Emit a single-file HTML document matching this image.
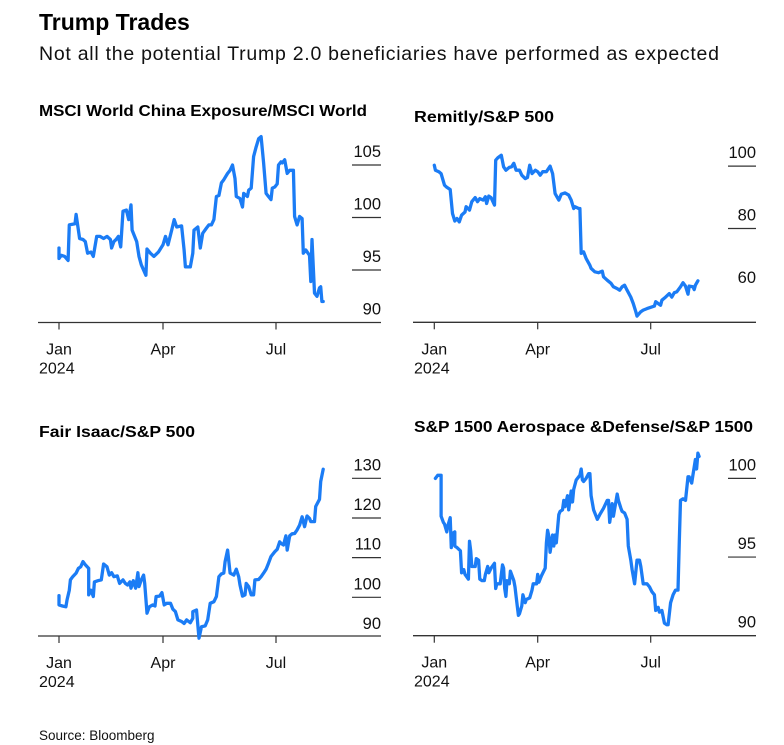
<!DOCTYPE html>
<html><head><meta charset="utf-8"><style>
html,body{margin:0;padding:0;background:#fff;width:784px;height:745px;overflow:hidden}
svg{display:block;font-family:"Liberation Sans",Arial,sans-serif}
</style></head><body>
<svg id="chart" width="784" height="745" viewBox="0 0 784 745">
<text x="39" y="30" font-size="23" font-weight="bold" fill="#000">Trump Trades</text>
<text x="39" y="60" font-size="19.5" fill="#111" textLength="680">Not all the potential Trump 2.0 beneficiaries have performed as expected</text>
<text x="39" y="740" font-size="13.5" fill="#111">Source: Bloomberg</text>
</svg>
<script>
// x = day of year 2024 (0 = Jan 1)
const monthLabels = ["Jan","Apr","Jul"];
const monthDays = [0,91,182];

const chinaDays = [0,0,2,5,8,9,14,15,18,21,23,25,28,30,33,36,39,42,45,46,48,50,52,54,56,59,61,63,64,68,70,72,76,77,80,83,87,91,93,95,98,100,102,106,108,109,113,115,116,119,121,123,126,128,130,132,134,136,138,140,143,145,147,149,150,153,155,156,159,160,162,164,166,168,170,172,174,176,178,179,181,183,184,186,187,189,191,193,196,197,199,201,203,204,206,209,210,211,213,215,217,218,219,220];
const chinaVals = [97.1,96.1,96.4,96.3,95.9,99.3,99.4,100.3,98.0,97.9,97.7,96.6,96.7,96.3,98.2,98.2,98.0,98.2,97.9,97.1,97.7,97.9,98.2,97.2,100.6,100.7,99.8,101.2,98.8,97.7,96.3,95.5,94.5,97.0,96.6,96.3,96.7,97.4,98.2,97.4,98.8,99.8,99.1,99.2,96.9,95.3,95.3,96.6,98.8,99.1,97.1,98.5,99.0,99.3,99.3,99.8,102.0,102.1,103.3,103.6,104.2,104.5,105.0,103.7,102.0,101.8,101.0,102.3,102.0,102.6,102.8,105.8,106.7,107.5,107.7,105.2,102.3,102.0,101.7,102.8,102.9,103.2,105.0,105.3,105.2,105.5,104.2,104.5,104.5,100.1,99.3,100.1,99.9,96.6,96.9,96.4,93.9,97.9,92.8,92.5,93.3,93.4,92.0,92.0];
const chinaTicks = [105,100,95,90];

const remitlyDays = [0,1,4,6,9,11,14,16,18,20,22,24,27,28,31,33,36,38,40,43,45,46,48,50,51,53,54,56,59,61,63,66,68,70,72,75,77,80,82,84,86,89,91,93,95,98,101,103,105,108,110,113,116,118,120,121,124,125,126,128,130,133,134,137,140,143,144,147,150,152,155,157,159,161,163,166,168,170,171,174,176,179,182,185,186,188,190,191,194,197,199,201,203,206,208,210,212,213,216,217,218,220];
const remitlyVals = [100.3,98.7,98.2,97.6,93.9,93.2,92.5,84.8,82.4,83.2,82.1,84.3,85.3,87.0,85.9,88.6,89.9,88.6,89.6,89.1,90.2,88.0,90.4,89.9,89.1,87.5,101.9,102.7,103.5,99.8,98.7,99.6,99.8,100.9,98.7,98.7,97.1,96.0,96.4,100.3,97.6,98.7,98.2,97.1,98.2,98.2,100,97.6,91.2,89.1,91.0,91.4,90.7,89.1,86.4,87.0,86.4,86.4,72.0,72.5,70.4,68.2,67.2,66.1,65.8,66.3,64.5,63.4,62.4,61.3,60.7,60.2,61.3,61.8,60.2,58.0,55.9,53.3,51.9,53.3,53.8,54.3,54.7,55.1,56.5,55.9,55.4,57.0,58.0,59.1,58.0,59.4,59.7,61.3,62.6,61.5,58.9,61.5,61.3,60.4,61.8,63.2];
const remitlyTicks = [100,80,60];

const fairDays = [0,0,3,6,7,9,10,12,15,17,19,21,23,26,26,28,30,31,34,37,39,42,44,46,48,51,53,56,58,60,62,63,65,67,69,70,72,74,75,77,79,82,84,85,88,90,92,94,97,99,101,103,106,108,110,113,115,115,118,120,122,125,127,129,132,134,136,138,140,141,143,145,148,150,152,153,155,157,158,160,162,164,165,168,170,172,174,176,178,181,183,185,186,188,190,191,193,195,197,199,201,203,205,207,209,210,213,214,217,218,220];
const fairVals = [100.4,98.1,97.8,97.6,99.3,101.8,104.4,105.2,106.1,107.3,107.7,109.0,108.2,107.3,100.6,101.8,100.2,103.9,104.2,104.4,108.4,107.7,105.6,106.2,105.2,105.4,103.5,104.4,103.5,103.1,103.9,102.3,104.2,102.3,106.2,102.7,104.4,105.6,103.5,96.0,97.6,98.1,97.8,100.2,100.3,101.2,98.1,98.5,98.5,97.0,96.4,94.3,93.9,93.4,94.3,93.6,94.7,96.4,96.8,89.7,92.6,92.8,94.3,98.5,98.9,100.2,105.2,105.9,106.1,109.0,111.9,106.1,105.6,107.1,105.2,103.1,100.3,100.6,103.5,102.7,100.6,100.6,104.4,104.5,105.2,106.1,107.1,108.6,110.3,111.5,112.1,114.0,113.6,113.2,115.5,111.9,115.5,116.0,116.1,117.0,118.2,120.3,117.8,120.5,119.9,119.1,119.1,122.9,124.7,129.2,132.3];
const fairTicks = [130,120,110,100,90];

const aeroDays = [1,3,6,6,8,9,11,12,14,15,16,18,18,20,23,24,26,27,28,30,31,32,33,34,36,37,39,40,42,44,45,47,48,50,53,53,54,55,57,58,60,61,62,63,64,66,67,70,71,72,74,75,77,78,80,81,84,86,87,90,91,92,94,97,98,99,100,101,103,104,105,106,108,109,111,112,113,115,116,118,119,120,122,124,125,126,127,128,130,132,133,134,136,138,139,141,144,147,148,149,151,152,155,156,158,159,161,163,164,166,167,169,171,173,174,176,179,181,183,185,186,188,189,191,193,195,196,198,200,202,204,205,206,208,210,212,213,214,215,216,218,219,220,221];
const aeroVals = [100,100.2,100.2,97.6,97.2,97.1,96.6,97.0,97.5,95.6,96.5,96.6,95.7,95.6,95.4,94.0,94.2,93.9,93.8,93.6,96.0,95.4,94.4,94.4,94.4,94.9,94.8,93.6,93.5,93.5,93.9,94.4,94.0,94.3,94.6,94.5,93.0,93.3,93.3,93.3,94.5,94.3,93.0,92.5,93.5,93.3,94.1,93.5,93.1,92.5,91.3,91.4,91.9,92.6,92.1,92.3,92.4,92.9,93.3,93.3,93.9,93.4,93.8,94.3,95.9,96.7,96.3,95.3,96.4,95.7,96.4,95.9,97.7,97.9,98.0,98.6,98.2,98.9,98.0,99.2,98.5,99.3,99.9,100.1,100.2,100.6,99.9,99.8,100,100.3,100.3,98.9,98.0,97.6,97.4,97.7,98.1,98.6,98.6,97.2,98.4,97.6,99.0,98.6,98.1,97.9,97.8,97.4,95.7,94.8,94.2,93.3,94.8,94.8,94.4,93.3,93.3,93.1,92.8,92.6,91.6,91.8,91.5,91.6,90.8,90.7,90.7,92.1,92.6,92.9,92.9,96.0,98.6,98.7,98.6,100.1,100.1,99.9,99.7,100.2,101.2,100.6,101.6,101.4];
const aeroTicks = [100,95,90];

const svg = document.getElementById('chart');
const NS = 'http://www.w3.org/2000/svg';
function mk(tag, attrs, parent){const e=document.createElementNS(NS,tag);for(const k in attrs)e.setAttribute(k,attrs[k]);(parent||svg).appendChild(e);return e;}

const panels = [
 {name:'china', title:'MSCI World China Exposure/MSCI World', titleW:328, titleY:116, x0:38, x1:381, baseY:322.5, tickPx:[59,163,276], vBase:90, pxPerUnit:10.5, days:chinaDays, vals:chinaVals, ticks:chinaTicks, gridX0:352},
 {name:'remitly', title:'Remitly/S&P 500', titleW:140, titleY:122, x0:413, x1:756, baseY:322.3, tickPx:[434.3,537.7,650.7], vBase:49.9, pxPerUnit:3.117, days:remitlyDays, vals:remitlyVals, ticks:remitlyTicks, gridX0:728, skipGrid:[60]},
 {name:'fair-isaac', title:'Fair Isaac/S&P 500', titleW:156, titleY:437, x0:38, x1:381, baseY:636, tickPx:[59,163,276], vBase:90.25, pxPerUnit:3.967, days:fairDays, vals:fairVals, ticks:fairTicks, gridX0:352},
 {name:'aerospace', title:'S&P 1500 Aerospace &Defense/S&P 1500', titleW:339, titleY:432, x0:413, x1:756, baseY:635.7, tickPx:[434.3,537.7,650.7], vBase:90, pxPerUnit:15.73, days:aeroDays, vals:aeroVals, ticks:aeroTicks, gridX0:728}
];

panels.forEach(p=>{
  const g = mk('g',{});
  
  
  const xs = d=>{
    const t=p.tickPx, m=monthDays;
    if(d<=m[1]) return t[0]+(d-m[0])*(t[1]-t[0])/(m[1]-m[0]);
    return t[1]+(d-m[1])*(t[2]-t[1])/(m[2]-m[1]);
  };
  const ys = v=>p.baseY-(v-p.vBase)*p.pxPerUnit;
  const tt = mk('text',{x:p.x0+1,y:p.titleY,'font-size':'15.5','font-weight':'bold',fill:'#000',textLength:p.titleW,lengthAdjust:'spacingAndGlyphs'},g);
  tt.textContent = p.title;
  
  
  p.ticks.forEach(v=>{
    const y = ys(v);
    if(Math.abs(y-p.baseY)>3 && !(p.skipGrid&&p.skipGrid.includes(v))){
      const gl = mk('line',{x1:p.gridX0,x2:p.x1,y1:y,y2:y,stroke:'#333','stroke-width':'1.2'},g);
      
      
    }
    const lb = mk('text',{x:p.x1,y:y-8,'font-size':'16.5','text-anchor':'end',fill:'#111'},g);
    lb.textContent = v;
    
    
  });
  const ax = mk('line',{x1:p.x0,x2:p.x1,y1:p.baseY,y2:p.baseY,stroke:'#333','stroke-width':'1.3'},g);
  
  
  monthDays.forEach((d,i)=>{
    const x = xs(d);
    const tk = mk('line',{x1:x,x2:x,y1:p.baseY,y2:p.baseY+7,stroke:'#333','stroke-width':'1.2'},g);
    
    
    const lb = mk('text',{x:x,y:p.baseY+32,'font-size':'16','text-anchor':'middle',fill:'#111'},g);
    lb.textContent = monthLabels[i];
    
    
  });
  const yr = mk('text',{x:p.x0+1,y:p.baseY+51,'font-size':'16',fill:'#111'},g);
  yr.textContent = '2024';
  
  
  const pts = p.days.map((d,i)=>xs(d).toFixed(1)+','+ys(p.vals[i]).toFixed(1)).join(' ');
  const ln = mk('polyline',{points:pts,fill:'none',stroke:'#1b7cf5','stroke-width':'3.3','stroke-linejoin':'round','stroke-linecap':'round'},g);
  
  
});
</script>
</body></html>
